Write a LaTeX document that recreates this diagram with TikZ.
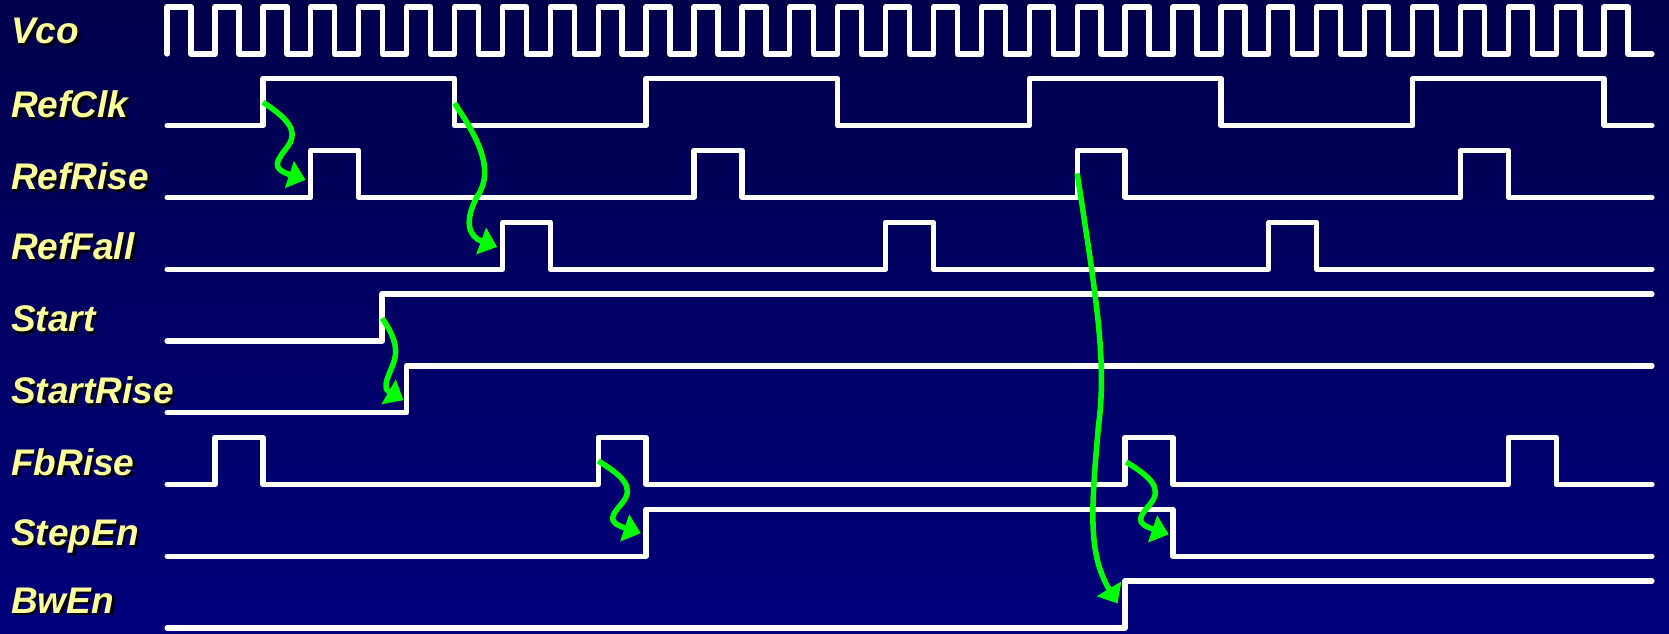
\documentclass[tikz,border=0pt]{standalone}
\usepackage{fontspec}
\setmainfont{Liberation Sans}
\usetikzlibrary{arrows.meta}
\definecolor{bgtop}{RGB}{0,0,76}
\definecolor{bgbot}{RGB}{0,0,124}
\definecolor{lbl}{RGB}{255,255,153}
\definecolor{shd}{RGB}{0,0,10}
\definecolor{arr}{RGB}{0,255,0}
\newcommand{\shtext}[1]{\makebox[0pt][l]{\hspace{1.3pt}\raisebox{-1.3pt}{\color{shd}#1}}#1}
\begin{document}
\begin{tikzpicture}[x=0.5pt,y=-0.5pt,
  lab/.style={anchor=base west, inner sep=0pt, text=lbl, font=\fontsize{17.4}{20}\selectfont\bfseries\itshape},
  wave/.style={white, line width=2.5pt, line join=round, line cap=round},
  garrow/.style={arr, line width=2.6pt, -{Triangle[length=8pt,width=13pt]}}]
\useasboundingbox (0,0) rectangle (1568,595);
\shade[top color=bgtop,bottom color=bgbot] (0,0) rectangle (1568,595);

% labels
\node[lab] (lVco)   at (10,40.7) {\shtext{Vco}};
\node[lab] (lRefClk) at (10,110.5) {\shtext{RefClk}};
\node[lab] (lRefRise) at (10,178) {\shtext{RefRise}};
\node[lab] (lRefFall) at (10,244) {\shtext{RefFall}};
\node[lab] (lStart) at (10,311.5) {\shtext{Start}};
\node[lab] (lStartRise) at (10,379) {\shtext{StartRise}};
\node[lab] (lFbRise) at (10,446.3) {\shtext{FbRise}};
\node[lab] (lStepEn) at (10,512.5) {\shtext{StepEn}};
\node[lab] (lBwEn) at (10,576) {\shtext{BwEn}};

% Vco
\draw[wave] (157,50.7) \foreach \k in {0,...,30}{ -- ({157+45*\k},6.5) -- ({179.5+45*\k},6.5) -- ({179.5+45*\k},50.7) -- ({202+45*\k},50.7)};
% RefClk
\draw[wave] (157,118.1) -- (247,118.1) -- (247,74) -- (427,74) -- (427,118.1) -- (607,118.1) -- (607,74) -- (787,74) -- (787,118.1) -- (967,118.1) -- (967,74) -- (1147,74) -- (1147,118.1) -- (1327,118.1) -- (1327,74) -- (1507,74) -- (1507,118.1) -- (1552,118.1);
% RefRise
\draw[wave] (157,185.5) -- (292,185.5) -- (292,141.5) -- (337,141.5) -- (337,185.5) -- (652,185.5) -- (652,141.5) -- (697,141.5) -- (697,185.5) -- (1012,185.5) -- (1012,141.5) -- (1057,141.5) -- (1057,185.5) -- (1372,185.5) -- (1372,141.5) -- (1417,141.5) -- (1417,185.5) -- (1552,185.5);
% RefFall
\draw[wave] (157,252.9) -- (472,252.9) -- (472,208.9) -- (517,208.9) -- (517,252.9) -- (832,252.9) -- (832,208.9) -- (877,208.9) -- (877,252.9) -- (1192,252.9) -- (1192,208.9) -- (1237,208.9) -- (1237,252.9) -- (1552,252.9);
% Start
\draw[wave] (157,320.3) -- (359,320.3) -- (359,276.3) -- (1552,276.3);
% StartRise
\draw[wave] (157,387.7) -- (382,387.7) -- (382,343.7) -- (1552,343.7);
% FbRise
\draw[wave] (157,455.1) -- (202,455.1) -- (202,411.1) -- (247,411.1) -- (247,455.1) -- (562,455.1) -- (562,411.1) -- (607,411.1) -- (607,455.1) -- (1057,455.1) -- (1057,411.1) -- (1102,411.1) -- (1102,455.1) -- (1417,455.1) -- (1417,411.1) -- (1462,411.1) -- (1462,455.1) -- (1552,455.1);
% StepEn
\draw[wave] (157,522.5) -- (607,522.5) -- (607,478.5) -- (1102,478.5) -- (1102,522.5) -- (1552,522.5);
% BwEn
\draw[wave] (157,589.9) -- (1057,589.9) -- (1057,545.9) -- (1552,545.9);

% arrow end points
\coordinate (a1s) at (247,96);   \coordinate (a1e) at (287,169);
\coordinate (a2s) at (427,97);   \coordinate (a2e) at (467,232);
\coordinate (a3s) at (359,299);  \coordinate (a3e) at (379,376);
\coordinate (a4s) at (562,433);  \coordinate (a4e) at (602,501);
\coordinate (a5s) at (1058,434); \coordinate (a5e) at (1098,502);
\coordinate (a6s) at (1012,163); \coordinate (a6e) at (1050,567);

\draw[garrow] (a1s) .. controls (268,110) and (282,122) .. (270,138) .. controls (260,151) and (254,158) .. (a1e);
\draw[garrow] (a2s) .. controls (448,128) and (466,160) .. (448,185) .. controls (436,208) and (440,222) .. (a2e);
\draw[garrow] (a3s) .. controls (368,312) and (375,325) .. (370,340) .. controls (366,352) and (358,364) .. (a3e);
\draw[garrow] (a4s) .. controls (583,446) and (597,457) .. (585,472) .. controls (575,484) and (569,490) .. (a4e);
\draw[garrow] (a5s) .. controls (1079,447) and (1093,458) .. (1081,473) .. controls (1071,485) and (1065,491) .. (a5e);
\draw[garrow] (a6s) .. controls (1030,280) and (1040,340) .. (1032,400) .. controls (1025,480) and (1022,520) .. (a6e);
\end{tikzpicture}
\end{document}
